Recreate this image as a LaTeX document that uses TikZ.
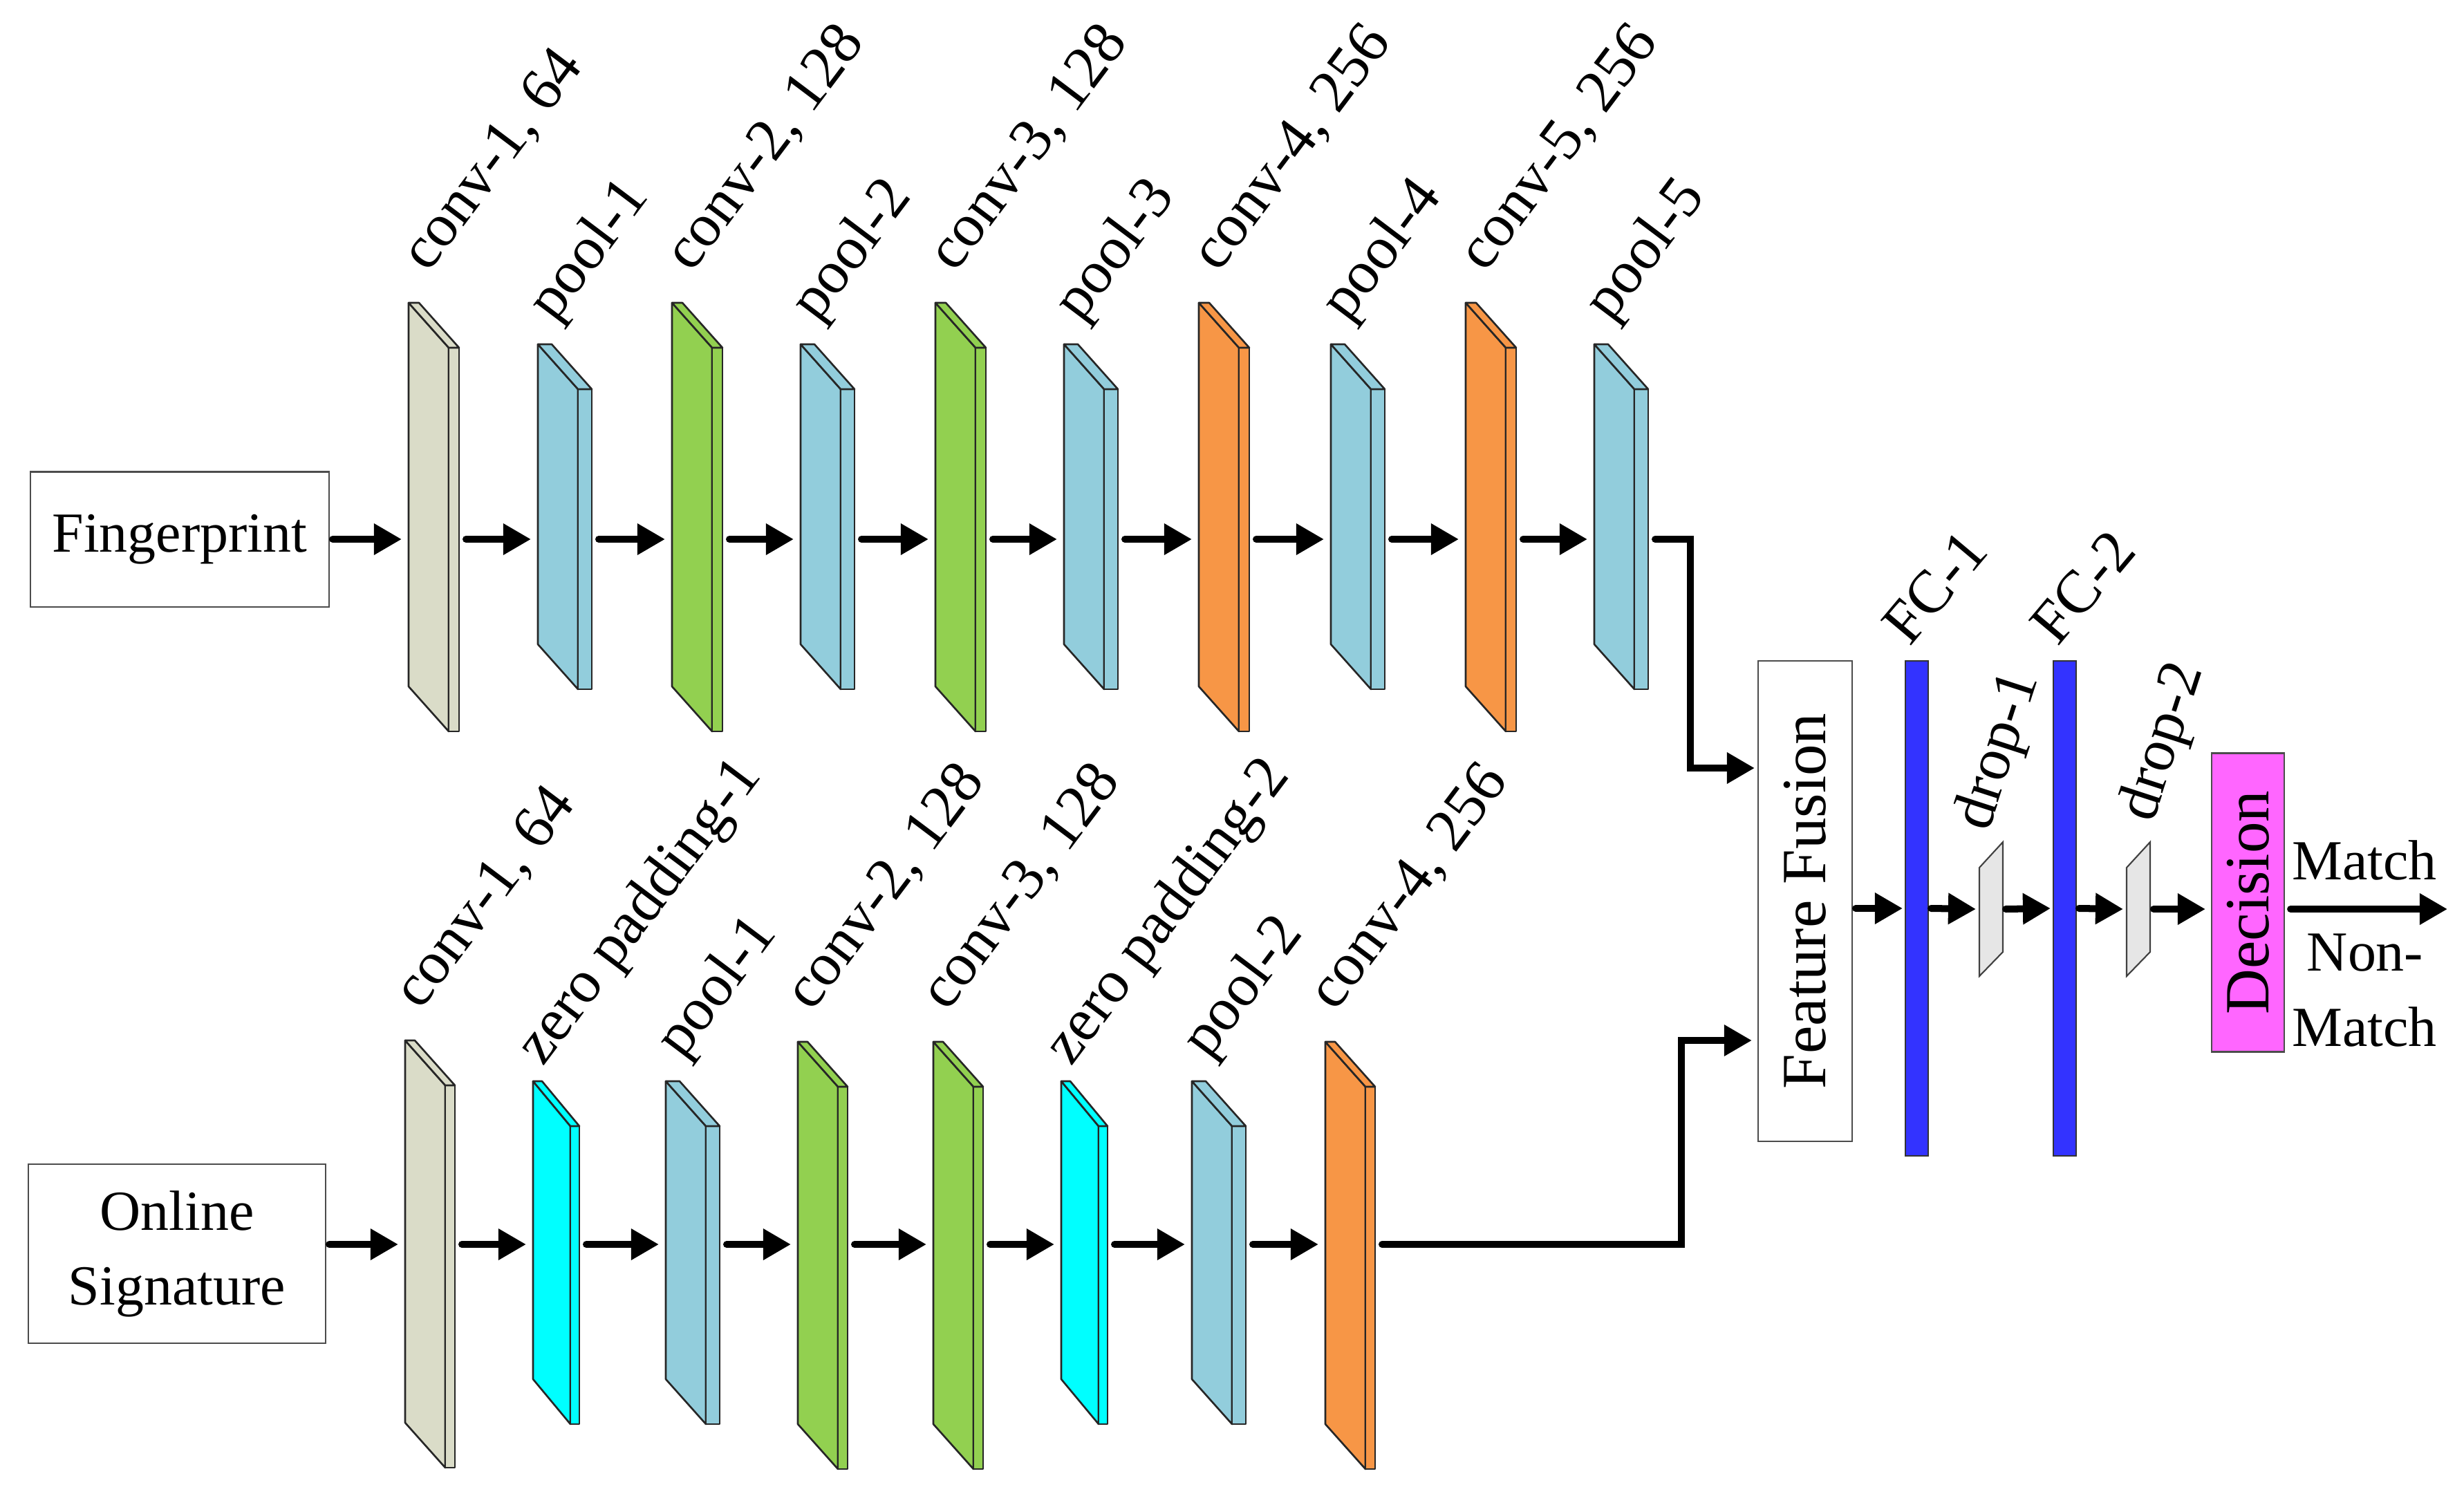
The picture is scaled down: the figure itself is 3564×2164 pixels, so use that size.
\documentclass[tikz,border=0pt]{standalone}
\usepackage{fontspec}
\setmainfont{Liberation Serif}
\usetikzlibrary{arrows.meta,calc}
\definecolor{cbeige}{HTML}{DADCC8}
\definecolor{cpool}{HTML}{92CDDC}
\definecolor{cgreen}{HTML}{92D050}
\definecolor{corange}{HTML}{F79646}
\definecolor{ccyan}{HTML}{00FFFF}
\definecolor{cfc}{HTML}{3333FF}
\definecolor{cdrop}{HTML}{E6E6E6}
\definecolor{cdec}{HTML}{FF66FF}
\newcommand\fsN{\fontsize{23.3}{28}\selectfont}
\newcommand\fsL{\fontsize{24.9}{30}\selectfont}
\newcommand\fsB{\fontsize{25.9}{30}\selectfont}
% name, x, ytop, h, dx, t, colour, yarrow
\newcommand\layerblock[8]{%
  \filldraw[blkline,fill=#7] (#2,#3) -- ({#2+#5},{#3+65}) -- ({#2+#5},{#3+65+#4}) -- (#2,{#3+#4}) -- cycle;
  \filldraw[blkline,fill=#7] ({#2+#5},{#3+65}) rectangle ({#2+#5+#6},{#3+65+#4});
  \filldraw[blkline,fill=#7] (#2,#3) -- ({#2+#6},#3) -- ({#2+#5+#6},{#3+65}) -- ({#2+#5},{#3+65}) -- cycle;
  \coordinate (#1-tl) at (#2,#3);
  \coordinate (#1-in) at ({#2-10},#8);
  \coordinate (#1-out) at ({#2+#5+#6+10},#8);
}
\tikzset{
  blkline/.style={draw=black!85, line width=0.75pt, line join=round},
  arr/.style={line width=2.85pt, line cap=round, -{Triangle[length=11.4pt,width=12.2pt]}},
  inbox/.style={draw=black!70, line width=0.6pt, fill=white, inner sep=0pt, outer sep=0.05cm, font=\fsN},
  lab/.style={rotate=53, anchor=base west, inner sep=0pt, font=\fsL},
  fcbar/.style={draw=black!80, line width=0.6pt, fill=cfc, inner sep=0pt, outer sep=0.04cm, minimum width=0.33cm, minimum height=7.16cm},
}
\begin{document}
\begin{tikzpicture}[x=0.01cm,y=-0.01cm]
\useasboundingbox (0,0) rectangle (3564,2164);

% inputs
\node[inbox, minimum width=4.32cm, minimum height=1.95cm] (fp) at (260,780) {Fingerprint};
\node[inbox, minimum width=4.30cm, minimum height=2.59cm, align=center, font=\fontsize{23.3}{30.7}\selectfont] (os) at (256,1813.5) {Online\\Signature};

% top stream
\layerblock{a1}{591}{438}{555}{58}{15}{cbeige}{780}
\layerblock{a2}{778}{498}{434}{58}{20}{cpool}{780}
\layerblock{a3}{972}{438}{555}{58}{15}{cgreen}{780}
\layerblock{a4}{1158}{498}{434}{58}{20}{cpool}{780}
\layerblock{a5}{1353}{438}{555}{58}{15}{cgreen}{780}
\layerblock{a6}{1539}{498}{434}{58}{20}{cpool}{780}
\layerblock{a7}{1734}{438}{555}{58}{15}{corange}{780}
\layerblock{a8}{1925}{498}{434}{58}{20}{cpool}{780}
\layerblock{a9}{2120}{438}{555}{58}{15}{corange}{780}
\layerblock{a10}{2306}{498}{434}{58}{20}{cpool}{780}

\node[lab] at ($(a1-tl)+(28,-42)$) {conv-1, 64};
\node[lab] at ($(a2-tl)+(24,-30)$) {pool-1};
\node[lab] at ($(a3-tl)+(28,-42)$) {conv-2, 128};
\node[lab] at ($(a4-tl)+(24,-30)$) {pool-2};
\node[lab] at ($(a5-tl)+(28,-42)$) {conv-3, 128};
\node[lab] at ($(a6-tl)+(24,-30)$) {pool-3};
\node[lab] at ($(a7-tl)+(28,-42)$) {conv-4, 256};
\node[lab] at ($(a8-tl)+(24,-30)$) {pool-4};
\node[lab] at ($(a9-tl)+(28,-42)$) {conv-5, 256};
\node[lab] at ($(a10-tl)+(24,-30)$) {pool-5};

% bottom stream
\layerblock{b1}{586}{1505}{553}{58}{14}{cbeige}{1800}
\layerblock{b2}{771}{1564}{431}{54}{13}{ccyan}{1800}
\layerblock{b3}{963}{1564}{431}{58}{20}{cpool}{1800}
\layerblock{b4}{1154}{1507}{553}{58}{14}{cgreen}{1800}
\layerblock{b5}{1350}{1507}{553}{58}{14}{cgreen}{1800}
\layerblock{b6}{1535}{1564}{431}{54}{13}{ccyan}{1800}
\layerblock{b7}{1724}{1564}{431}{58}{20}{cpool}{1800}
\layerblock{b8}{1917}{1507}{553}{58}{14}{corange}{1800}

\node[lab] at ($(b1-tl)+(22,-42)$) {conv-1, 64};
\node[lab] at ($(b2-tl)+(14,-20)$) {zero padding-1};
\node[lab] at ($(b3-tl)+(24,-30)$) {pool-1};
\node[lab] at ($(b4-tl)+(20,-42)$) {conv-2, 128};
\node[lab] at ($(b5-tl)+(20,-42)$) {conv-3, 128};
\node[lab] at ($(b6-tl)+(14,-20)$) {zero padding-2};
\node[lab] at ($(b7-tl)+(24,-30)$) {pool-2};
\node[lab] at ($(b8-tl)+(14,-42)$) {conv-4, 256};

% arrows in streams
\draw[arr] (fp.east |- a1-in) -- (a1-in);
\foreach \i/\j in {1/2,2/3,3/4,4/5,5/6,6/7,7/8,8/9,9/10} \draw[arr] (a\i-out) -- (a\j-in);
\draw[arr] (os.east |- b1-in) -- (b1-in);
\foreach \i/\j in {1/2,2/3,3/4,4/5,5/6,6/7,7/8} \draw[arr] (b\i-out) -- (b\j-in);

% fusion
\node[inbox, minimum width=1.36cm, minimum height=6.95cm, font=\fsB] (ff) at (2611,1303.5) {};
\node[rotate=90, font=\fsB, inner sep=0pt] at (ff.center) {Feature Fusion};
\coordinate (ff-in1) at ($(ff.west)+(0,-192.5)$);
\coordinate (ff-in2) at ($(ff.west)+(-4,201.5)$);
\draw[arr] (a10-out) -- ++(51,0) |- (ff-in1);
\draw[arr] (b8-out) -- ++(433,0) |- (ff-in2);

% head
\node[fcbar] (fc1) at (2772.5,1314) {};
\node[fcbar] (fc2) at (2986.5,1314) {};
\filldraw[draw=black!75, line width=0.6pt, fill=cdrop] (2863,1255) -- (2897,1218) -- (2897,1377) -- (2863,1412) -- cycle;
\filldraw[draw=black!75, line width=0.6pt, fill=cdrop] (3076,1255) -- (3110,1218) -- (3110,1377) -- (3076,1412) -- cycle;
\coordinate (d1w) at (2858,1315);
\coordinate (d1e) at (2901,1315);
\coordinate (d2w) at (3071,1315);
\coordinate (d2e) at (3115,1315);
\node[draw=black!70, line width=0.8pt, fill=cdec, inner sep=0pt, outer sep=0.09cm, minimum width=1.05cm, minimum height=4.31cm] (dec) at (3251.5,1305.5) {};
\node[rotate=90, font=\fsB, inner sep=0pt] at (dec.center) {Decision};
\coordinate (outc) at (3540,1315);

\node[rotate=50, anchor=base west, inner sep=0pt, font=\fsL] at (2762,937) {FC-1};
\node[rotate=50, anchor=base west, inner sep=0pt, font=\fsL] at (2976,937) {FC-2};
\node[rotate=72, anchor=base west, inner sep=0pt, font=\fsL] at (2876,1205) {drop-1};
\node[rotate=72, anchor=base west, inner sep=0pt, font=\fsL] at (3114,1192) {drop-2};

\draw[arr] (ff.east |- fc1) -- (fc1.west);
\draw[arr] (fc1.east) -- (d1w);
\draw[arr] (d1e) -- (fc2.west);
\draw[arr] (fc2.east) -- (d2w);
\draw[arr] (d2e) -- (dec.west |- d2e);
\draw[arr] (dec.east |- d2e) -- (outc);

\node[anchor=base, inner sep=0pt, font=\fsN] at (3420,1272) {Match};
\node[anchor=base, inner sep=0pt, font=\fsN] at (3421,1404) {Non-};
\node[anchor=base, inner sep=0pt, font=\fsN] at (3420,1513) {Match};
\end{tikzpicture}
\end{document}
